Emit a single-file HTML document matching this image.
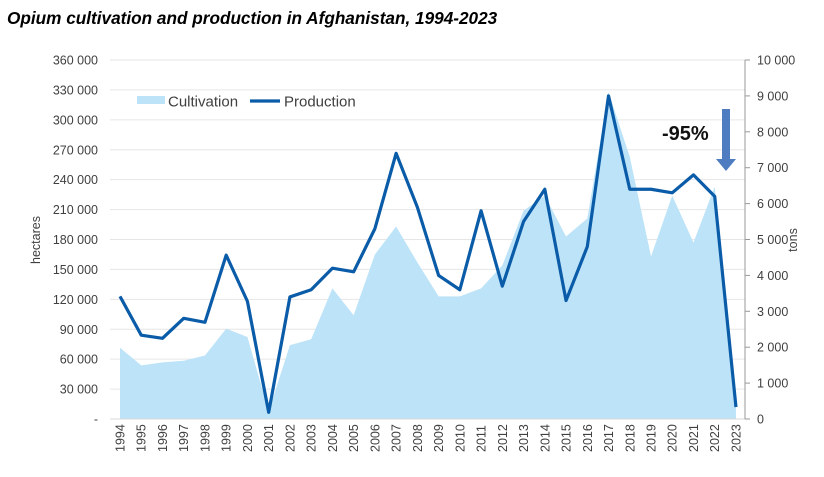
<!DOCTYPE html>
<html><head><meta charset="utf-8"><style>
body{margin:0;background:#fff;width:824px;height:472px;overflow:hidden;font-family:"Liberation Sans",sans-serif}
</style></head><body>
<svg id="s" width="824" height="472" xmlns="http://www.w3.org/2000/svg" font-family="Liberation Sans, sans-serif"></svg>
<script>
const ha=[71470,53759,56824,58416,63674,90583,82171,7606,74100,80000,131000,104000,165000,193000,157000,123000,123000,131000,154000,209000,224000,183000,201000,328000,263000,163000,224000,177000,233000,10800];
const t=[3416,2335,2248,2804,2693,4565,3276,185,3400,3600,4200,4100,5300,7400,5900,4000,3600,5800,3700,5500,6400,3300,4800,9000,6400,6400,6300,6800,6200,333];
const X=i=>120+i*21.24, B=419, YH=v=>B-v/360000*359, YT=v=>B-v/10000*359;
let h='';
h+='<text x="7" y="24" font-size="17.2" font-weight="bold" font-style="italic" fill="#000">Opium cultivation and production in Afghanistan, 1994-2023</text>';
for(let k=0;k<=12;k++){const y=B-k*359/12;
 if(k>0)h+=`<line x1="110" x2="745" y1="${y}" y2="${y}" stroke="#e6e6e6" stroke-width="1"/>`;
 h+=`<text x="98" y="${y+4.5}" font-size="12.5" fill="#404040" text-anchor="end">${k==0?'-':(k*30000).toLocaleString('en').replace(',',' ')}</text>`;}
for(let k=0;k<=10;k++){const y=B-k*35.9;
 h+=`<line x1="745" x2="750" y1="${y}" y2="${y}" stroke="#999"/>`;
 h+=`<text x="757" y="${y+4.5}" font-size="12.5" fill="#404040">${k==0?'0':(k*1000).toLocaleString('en').replace(',',' ')}</text>`;}
let p=`M${X(0)} ${B}`;ha.forEach((v,i)=>p+=` L${X(i)} ${YH(v)}`);p+=` L${X(29)} ${B}Z`;
h+=`<path d="${p}" fill="#bde3f8"/>`;
h+=`<line x1="110" x2="745" y1="${B}" y2="${B}" stroke="#d9d9d9"/>`;
h+=`<line x1="745" x2="745" y1="60" y2="${B}" stroke="#999"/>`;
h+=`<polyline fill="none" stroke="#0a5ca8" stroke-width="3.2" stroke-linejoin="round" points="${t.map((v,i)=>X(i)+','+YT(v)).join(' ')}"/>`;
for(let i=0;i<30;i++){h+=`<text transform="translate(${X(i)+4.5},452) rotate(-90)" font-size="12.5" fill="#404040">${1994+i}</text>`;}
h+='<text transform="translate(40,240) rotate(-90)" font-size="12.5" fill="#404040" text-anchor="middle">hectares</text>';
h+='<text transform="translate(797,240) rotate(-90)" font-size="12.5" fill="#404040" text-anchor="middle">tons</text>';
h+='<rect x="137" y="96" width="28" height="8" fill="#bde3f8"/><text x="168" y="106.5" font-size="15" fill="#404040">Cultivation</text>';
h+='<line x1="250" x2="280" y1="101" y2="101" stroke="#0a5ca8" stroke-width="3.2"/><text x="284" y="106.5" font-size="15" fill="#404040">Production</text>';
h+='<text x="662" y="140" font-size="20" font-weight="bold" fill="#111">-95%</text>';
h+='<rect x="722" y="109" width="8" height="50" fill="#4d7cc0"/><polygon points="716,159 736,159 726,171" fill="#4d7cc0"/>';
document.getElementById('s').innerHTML=h;
</script>
</body></html>
